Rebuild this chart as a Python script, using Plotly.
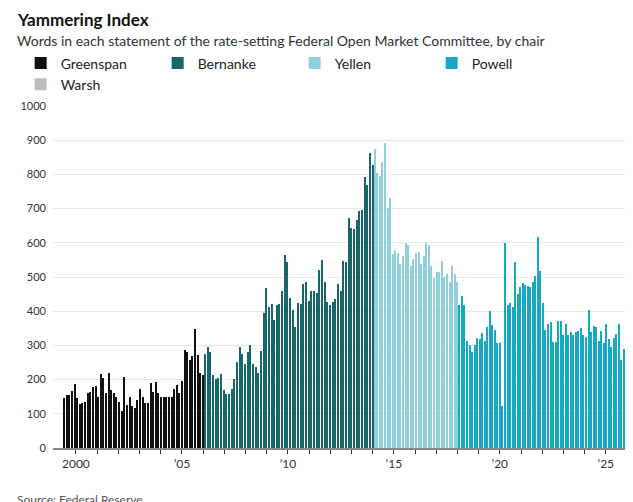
import numpy as np
import plotly.graph_objects as go

greenspan = [146,156,155,167,187,146,128,131,135,162,164,177,180,150,216,206,160,219,170,162,150,134,109,209,125,148,122,117,140,173,150,131,131,190,165,193,161,149,150,149,150,149,172,185,160,196,287,282,258,268,348,272,219,214]
bernanke = [274,294,280,214,202,204,216,170,159,159,173,202,251,296,274,245,282,302,245,238,219,284,394,469,413,420,374,418,420,459,564,543,438,404,353,423,420,479,486,430,459,459,453,520,550,484,426,418,426,436,481,459,547,543,673,644,640,666,693,695,793,770,864,827]
yellen = [874,805,795,836,891,703,730,566,580,569,537,562,598,593,532,554,569,572,538,562,598,593,532,496,516,516,547,501,508,484,533,508,484]
powell = [418,445,418,314,301,282,301,323,320,337,314,354,401,361,346,306,306,122,598,418,423,413,543,450,472,482,477,475,471,484,504,616,518,425,345,364,367,311,311,372,372,331,364,329,340,331,338,342,350,331,324,404,338,357,354,314,342,306,364,319,294,322,333,364,258,290,319,340]
warsh = [126]

chairs = ["Greenspan", "Bernanke", "Yellen", "Powell", "Warsh"]
values = [greenspan, bernanke, yellen, powell, warsh]
spans = [(1999.45, 2006.0), (2006.1, 2014.0), (2014.1, 2018.0), (2018.1, 2026.1), (2026.4, 2026.4)]
colors = ["#111111", "#17666e", "#8fd0dd", "#16a9c1", "#bdbdbd"]

fig = go.Figure()
for name, vals, (a, b), c in zip(chairs, values, spans, colors):
    x = np.linspace(a, b, len(vals)) if len(vals) > 1 else [a]
    fig.add_trace(go.Bar(x=x, y=vals, name=name, marker=dict(color=c, line_width=0), width=0.06))

years = list(range(2000, 2027))
ticktext = ["2000" if y == 2000 else ("\u2019%02d" % (y % 100) if y % 5 == 0 else "") for y in years]

H = 342.0
def py(px):
    return (440 - px) / H

fig.update_layout(
    width=633, height=502, plot_bgcolor="white", paper_bgcolor="white",
    margin=dict(l=45, r=0, t=98, b=62, autoexpand=False),
    font=dict(family="Lato, Liberation Sans, sans-serif", size=12, color="#333"),
    barmode="overlay", bargap=0,
    legend=dict(orientation="h", x=-0.055, y=py(66), xanchor="left", yanchor="middle",
                font=dict(size=14, color="#222"), entrywidth=92, entrywidthmode="pixels",
                traceorder="normal", itemsizing="constant"),
    xaxis=dict(range=[1998.92, 2026.66], tickvals=years, ticktext=ticktext, ticks="outside",
               ticklen=4, tickcolor="#333", showgrid=False, showline=True, linecolor="#888",
               linewidth=1.5, tickfont=dict(size=12, color="#333"), automargin=False),
    yaxis=dict(range=[0, 1000], tickvals=list(range(0, 1001, 100)), showgrid=True, gridcolor="#e8e8e8",
               tickfont=dict(size=11, color="#333"), zeroline=False, automargin=False,
               ticklabelstandoff=6),
)
fig.add_annotation(xref="paper", yref="paper", x=-0.065, y=py(12), xanchor="left", yanchor="middle",
                   text="<b>Yammering Index</b>", showarrow=False, font=dict(size=17, color="#111"))
fig.add_annotation(xref="paper", yref="paper", x=-0.065, y=py(33), xanchor="left", yanchor="middle",
                   text="Words in each statement of the rate-setting Federal Open Market Committee, by chair",
                   showarrow=False, font=dict(size=14, color="#333"))
fig.add_annotation(xref="paper", yref="paper", x=-0.065, y=py(491), xanchor="left", yanchor="middle",
                   text="Source: Federal Reserve", showarrow=False, font=dict(size=12, color="#555"))
fig.write_html("out.html")
